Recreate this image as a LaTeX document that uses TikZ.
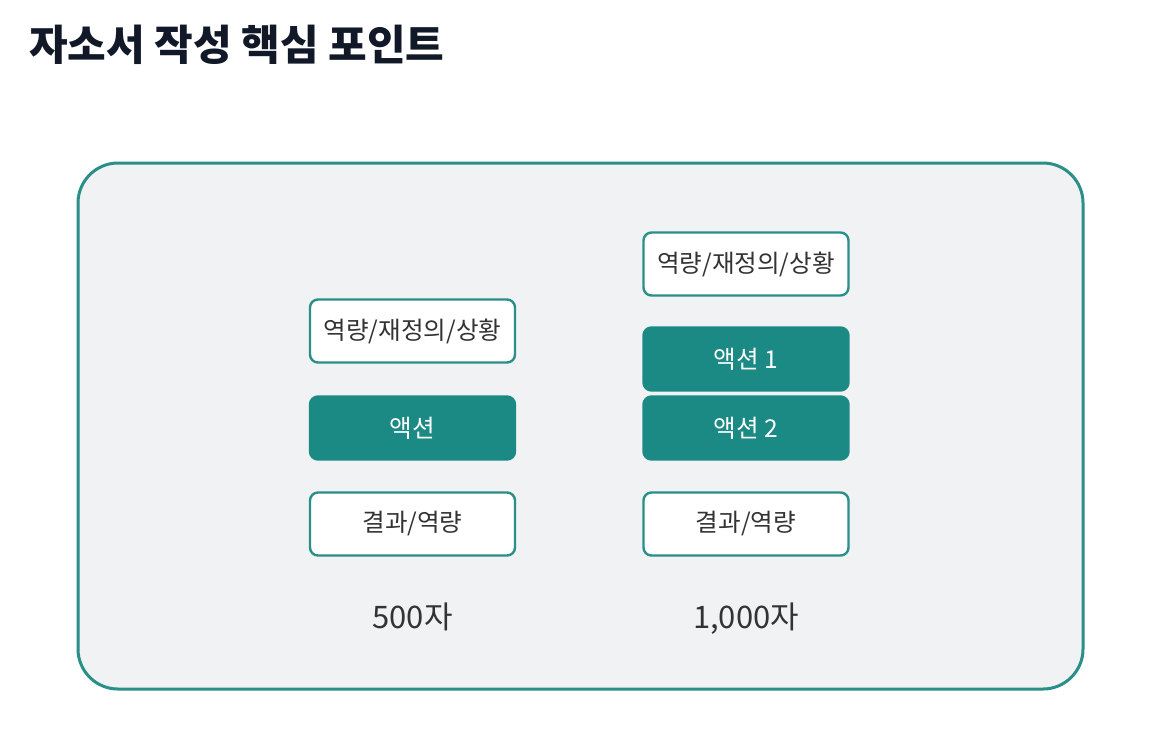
\documentclass[tikz,border=0pt]{standalone}
\usepackage{fontspec}
\setmainfont{Noto Sans CJK KR}
\usetikzlibrary{positioning}

\definecolor{teal}{HTML}{1B8A85}
\definecolor{tealline}{HTML}{2A8E89}
\definecolor{panel}{HTML}{F1F2F4}
\definecolor{ink}{HTML}{111827}
\definecolor{txt}{HTML}{333333}

\tikzset{
  part/.style={rectangle, rounded corners=4pt, draw=tealline, line width=1.2pt,
    fill=white, text=txt, font=\fontsize{12.3}{14}\selectfont,
    minimum width=102.5pt, minimum height=31.5pt, inner sep=0pt},
  act/.style={part, draw=teal, fill=teal, text=white},
  count/.style={anchor=base, text=txt, font=\fontsize{15.5}{18}\selectfont}
}

\begin{document}
\begin{tikzpicture}[x=0.5pt, y=-0.5pt]
  \useasboundingbox (0,0) rectangle (1176,730);
  \fill[white] (0,0) rectangle (1176,730);

  \path (22,45) node[anchor=west, text=ink, font=\fontsize{21}{25}\selectfont\bfseries](title){자소서 작성 핵심 포인트};

  \draw[tealline, line width=1.5pt, fill=panel, rounded corners=20pt] (78,163) rectangle (1083,689);

  % 500자
  \path (412.5,331) node[part](sit1){역량/재정의/상황}
        (412.5,428) node[act](act1){액션}
        (412.5,524) node[part](res1){결과/역량}
        (412.5,628) node[count](len1){500자};

  % 1,000자
  \path (746,264) node[part](sit2){역량/재정의/상황}
        (746,359) node[act](act2a){액션 1}
        (746,428) node[act](act2b){액션 2}
        (746,524) node[part](res2){결과/역량}
        (746,628) node[count](len2){1,000자};
\end{tikzpicture}
\end{document}
